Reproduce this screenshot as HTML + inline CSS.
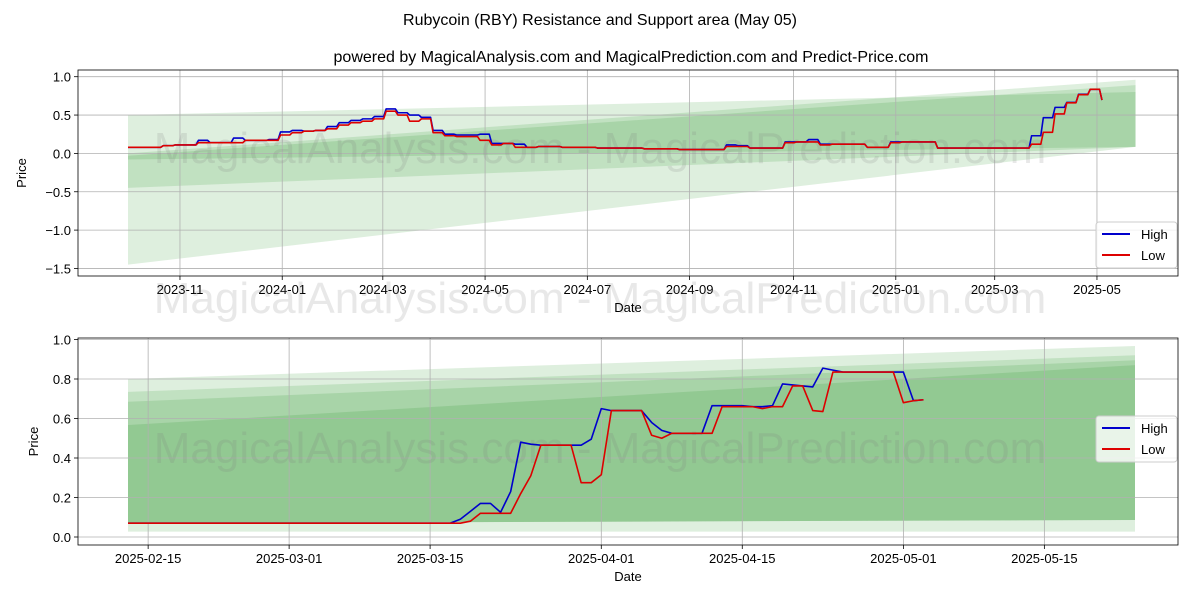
<!DOCTYPE html>
<html><head><meta charset="utf-8"><style>
body{margin:0;background:#fff}
svg text{font-family:"Liberation Sans","DejaVu Sans",sans-serif}
</style></head><body>
<svg id="chart" width="1200" height="600" xmlns="http://www.w3.org/2000/svg">
<text x="600" y="25" text-anchor="middle" font-size="16">Rubycoin (RBY) Resistance and Support area (May 05)</text>
<text x="631" y="62" text-anchor="middle" font-size="16">powered by MagicalAnalysis.com and MagicalPrediction.com and Predict-Price.com</text>
<g id="top"></g>
<g id="bot"></g>
</svg>
<script>
// Top chart data (weekly, week index from 2023-10-01)
const topHigh=[0.08,0.08,0.08,0.1,0.11,0.11,0.17,0.14,0.14,0.2,0.17,0.17,0.18,0.28,0.3,0.29,0.3,0.35,0.4,0.43,0.45,0.48,0.58,0.53,0.5,0.47,0.3,0.25,0.24,0.24,0.25,0.13,0.13,0.12,0.08,0.09,0.09,0.08,0.08,0.08,0.07,0.07,0.07,0.07,0.06,0.06,0.06,0.05,0.05,0.05,0.05,0.11,0.1,0.07,0.07,0.07,0.15,0.15,0.18,0.12,0.12,0.12,0.12,0.08,0.08,0.15,0.15,0.15,0.15,0.07,0.07,0.07,0.07,0.07,0.07,0.07,0.07,0.23,0.465,0.6,0.665,0.77,0.835,0.695];
const topLow=[0.08,0.08,0.08,0.1,0.11,0.11,0.14,0.14,0.14,0.14,0.17,0.17,0.17,0.24,0.27,0.29,0.3,0.32,0.37,0.4,0.42,0.45,0.55,0.5,0.42,0.45,0.27,0.23,0.22,0.22,0.17,0.11,0.13,0.08,0.08,0.09,0.09,0.08,0.08,0.08,0.07,0.07,0.07,0.07,0.06,0.06,0.06,0.05,0.05,0.05,0.05,0.09,0.09,0.07,0.07,0.07,0.14,0.15,0.15,0.11,0.12,0.12,0.12,0.08,0.08,0.14,0.15,0.15,0.15,0.07,0.07,0.07,0.07,0.07,0.07,0.07,0.07,0.12,0.275,0.515,0.66,0.765,0.835,0.695];
const topYTicks=[1.0,0.5,0.0,-0.5,-1.0,-1.5];
const topYLabels=["1.0","0.5","0.0","\u22120.5","\u22121.0","\u22121.5"];
const topXTickDays=[31,92,152,213,274,335,397,458,517,578];
const topXLabels=["2023-11","2024-01","2024-03","2024-05","2024-07","2024-09","2024-11","2025-01","2025-03","2025-05"];
// bands: [leftTop,leftBottom,rightTop,rightBottom]
const topBands=[[0.5,-1.45,0.8,0.085],[0.0,-0.45,0.96,0.085],[-0.03,-0.08,0.89,0.085]];
// Bottom chart data (daily from 2025-02-13)
const botHigh=[0.07,0.07,0.07,0.07,0.07,0.07,0.07,0.07,0.07,0.07,0.07,0.07,0.07,0.07,0.07,0.07,0.07,0.07,0.07,0.07,0.07,0.07,0.07,0.07,0.07,0.07,0.07,0.07,0.07,0.07,0.07,0.07,0.07,0.09,0.13,0.17,0.17,0.125,0.23,0.48,0.47,0.465,0.465,0.465,0.465,0.465,0.495,0.65,0.64,0.64,0.64,0.64,0.58,0.54,0.525,0.525,0.525,0.525,0.665,0.665,0.665,0.665,0.66,0.66,0.665,0.775,0.77,0.765,0.76,0.855,0.845,0.835,0.835,0.835,0.835,0.835,0.835,0.835,0.69,0.695];
const botLow=[0.07,0.07,0.07,0.07,0.07,0.07,0.07,0.07,0.07,0.07,0.07,0.07,0.07,0.07,0.07,0.07,0.07,0.07,0.07,0.07,0.07,0.07,0.07,0.07,0.07,0.07,0.07,0.07,0.07,0.07,0.07,0.07,0.07,0.07,0.08,0.12,0.12,0.12,0.12,0.22,0.31,0.465,0.465,0.465,0.465,0.275,0.275,0.315,0.64,0.64,0.64,0.64,0.515,0.50,0.525,0.525,0.525,0.525,0.525,0.66,0.66,0.66,0.66,0.65,0.66,0.66,0.765,0.765,0.64,0.635,0.835,0.835,0.835,0.835,0.835,0.835,0.835,0.68,0.69,0.695];
const botYTicks=[1.0,0.8,0.6,0.4,0.2,0.0];
const botYLabels=["1.0","0.8","0.6","0.4","0.2","0.0"];
const botXTickDays=[2,16,30,47,61,77,91];
const botXLabels=["2025-02-15","2025-03-01","2025-03-15","2025-04-01","2025-04-15","2025-05-01","2025-05-15"];
const botBands=[[0.80,0.027,0.967,0.027],[0.735,0.07,0.92,0.086],[0.685,0.07,0.895,0.086],[0.567,0.07,0.87,0.086]];

const NS="http://www.w3.org/2000/svg";
function mk(p,t,a){const e=document.createElementNS(NS,t);for(const k in a)e.setAttribute(k,a[k]);p.appendChild(e);return e;}

function panel(g,cfg){
  const {L,R,T,B,x,y}=cfg;
  cfg.bands.forEach((b,i)=>{
    const p=mk(g,'polygon',{points:`${x(cfg.bx0)},${y(b[0])} ${x(cfg.bx1)},${y(b[2])} ${x(cfg.bx1)},${y(b[3])} ${x(cfg.bx0)},${y(b[1])}`,fill:'rgb(0,128,0)','fill-opacity':'0.13'});
    
    
  });
  cfg.xt.forEach((d,i)=>{
    const l=mk(g,'line',{x1:x(d),x2:x(d),y1:T,y2:B,stroke:'#b0b0b0','stroke-width':0.8});
    
    
    mk(g,'line',{x1:x(d),x2:x(d),y1:B,y2:B+4,stroke:'#000','stroke-width':0.8});
    const t=mk(g,'text',{x:x(d),y:B+18,'text-anchor':'middle','font-size':13});
    t.textContent=cfg.xl[i];
    
    
  });
  cfg.yt.forEach((v,i)=>{
    const l=mk(g,'line',{x1:L,x2:R,y1:y(v),y2:y(v),stroke:'#b0b0b0','stroke-width':0.8});
    
    
    mk(g,'line',{x1:L-4,x2:L,y1:y(v),y2:y(v),stroke:'#000','stroke-width':0.8});
    const t=mk(g,'text',{x:L-7,y:y(v)+5,'text-anchor':'end','font-size':13});
    t.textContent=cfg.yl[i];
    
    
  });
  cfg.wm.forEach(wy=>{
    const w=mk(g,'text',{x:600,y:wy,'text-anchor':'middle','font-size':44,fill:'#808080','fill-opacity':0.18});
    w.textContent='MagicalAnalysis.com - MagicalPrediction.com';
    
    
  });
  [[cfg.hi,'#0000cc','high-line'],[cfg.lo,'#dd0000','low-line']].forEach(([arr,c,n])=>{
    let pts=[];
    arr.forEach((v,i)=>{
      if(cfg.stepped){
        if(i>0) pts.push(`${x(cfg.step*i-1.5)},${y(arr[i-1])}`);
      }
      pts.push(`${x(cfg.step*i)},${y(v)}`);
    });
    const p=mk(g,'polyline',{points:pts.join(' '),fill:'none',stroke:c,'stroke-width':1.6,'stroke-linejoin':'round'});
    
    
  });
  const fr=mk(g,'rect',{x:L,y:T,width:R-L,height:B-T,fill:'none',stroke:'#000','stroke-width':0.8});
  
  
  const xa=mk(g,'text',{x:(L+R)/2,y:B+36,'text-anchor':'middle','font-size':13});
  xa.textContent='Date';
  
  
  const ya=mk(g,'text',{x:cfg.yax,y:(T+B)/2,'text-anchor':'middle','font-size':13,transform:`rotate(-90 ${cfg.yax} ${(T+B)/2})`});
  ya.textContent='Price';
  
  
  const lg=mk(g,'g',{});
  
  
  const ly=cfg.ly;
  mk(lg,'rect',{x:1096,y:ly,width:81,height:46,rx:3,fill:'#fff','fill-opacity':0.8,stroke:'#ccc'});
  [['High','#0000cc'],['Low','#dd0000']].forEach(([n,c],i)=>{
    const e=mk(lg,'g',{});
    
    
    mk(e,'line',{x1:1102,x2:1130,y1:ly+12+i*21,y2:ly+12+i*21,stroke:c,'stroke-width':2});
    const t=mk(e,'text',{x:1141,y:ly+17+i*21,'font-size':13});t.textContent=n;
  });
}
panel(document.getElementById('top'),{L:78,R:1178,T:70,B:276,
  x:d=>128+d*1.6764,y:v=>153.4-v*76.7,bx0:0,bx1:601,bands:topBands,
  xt:topXTickDays,xl:topXLabels,yt:topYTicks,yl:topYLabels,hi:topHigh,lo:topLow,step:7,stepped:true,
  wm:[163,313],yax:26,ly:222});
panel(document.getElementById('bot'),{L:78,R:1178,T:338,B:545,
  x:d=>128+d*10.07,y:v=>537-v*197.5,bx0:0,bx1:100,bands:botBands,
  xt:botXTickDays,xl:botXLabels,yt:botYTicks,yl:botYLabels,hi:botHigh,lo:botLow,step:1,stepped:false,
  wm:[463],yax:38,ly:416});
</script>
</body></html>
